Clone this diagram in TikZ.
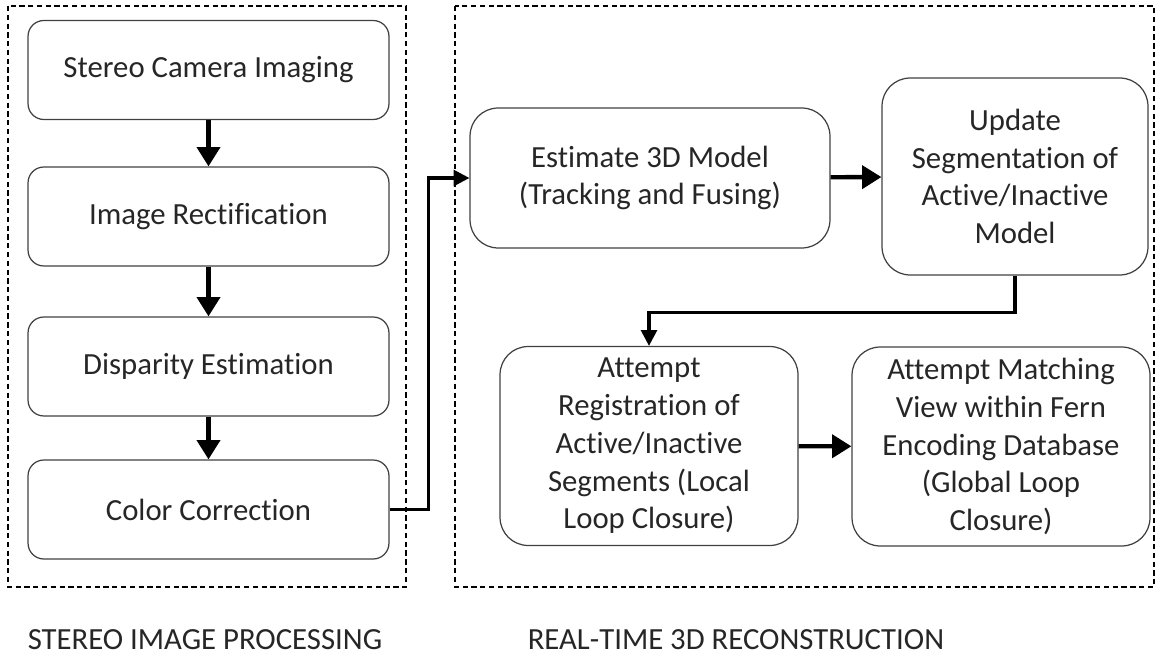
\documentclass[tikz,border=0pt]{standalone}
\usepackage{fontspec}
\setmainfont{Carlito}[Ligatures=NoCommon]
\usetikzlibrary{arrows.meta}
\definecolor{boxline}{HTML}{404040}
\definecolor{txt}{HTML}{262626}
\begin{document}
\begin{tikzpicture}[x=0.02cm,y=-0.02cm]
        \tikzset{
          every node/.style={font=\fontsize{17.5}{21.5}\selectfont, text=txt, align=center},
          leftbox/.style={draw=boxline, line width=0.7pt, rounded corners=9pt, minimum width=7.22cm, minimum height=1.98cm},
          rightbox/.style={draw=boxline, line width=0.7pt, rounded corners=16pt},
          frame/.style={draw=black, line width=0.6pt, dash pattern=on 3pt off 2pt},
          grouplabel/.style={inner sep=1pt},
          flow/.style={line width=2.5pt, -{Triangle[length=11pt,width=13pt]}},
          elbow/.style={line width=1.8pt, -{Triangle[length=9pt,width=9pt]}}
        }
        \useasboundingbox (0,0) rectangle (1159,655);
        % dashed group frames
        \draw [frame] (8,6) rectangle (406,587);
        \draw [frame] (455,6) rectangle (1154,587);
        % stereo side
        \node [leftbox] (camera) at (208.5,70) {Stereo Camera Imaging};
        \node [leftbox] (rectify) at (208.5,216.5) {Image Rectification};
        \node [leftbox] (disparity) at (208.5,366.5) {Disparity Estimation};
        \node [leftbox] (colour) at (208.5,509.5) {Color Correction};
        % reconstruction side
        \node [rightbox, minimum width=7.2cm, minimum height=2.8cm] (estimate) at (650,178) {Estimate 3D Model\\(Tracking and Fusing)};
        \node [rightbox, minimum width=5.32cm, minimum height=3.94cm] (update) at (1015,176.5) {Update\\Segmentation of\\Active/Inactive\\Model};
        \node [rightbox, minimum width=5.96cm, minimum height=3.98cm] (register) at (649,446) {Attempt\\Registration of\\Active/Inactive\\Segments (Local\\Loop Closure)};
        \node [rightbox, minimum width=5.96cm, minimum height=3.98cm] (matching) at (1001,446.5) {Attempt Matching\\View within Fern\\Encoding Database\\(Global Loop\\Closure)};
        % group labels
        \node [grouplabel] (stereolabel) at (205,640) {STEREO IMAGE PROCESSING};
        \node [grouplabel] (reconlabel) at (736,640) {REAL-TIME 3D RECONSTRUCTION};
        % connectors
        \draw [flow] (camera) -- (rectify);
        \draw [flow] (rectify) -- (disparity);
        \draw [flow] (disparity) -- (colour);
        \draw [elbow] (colour.east) -- ++(39,0) |- (estimate.west);
        \draw [flow] (estimate) -- (update);
        \draw [elbow] (update.south) -- ++(0,37) -| (register.north);
        \draw [flow] (register) -- (matching);
\end{tikzpicture}
\end{document}
